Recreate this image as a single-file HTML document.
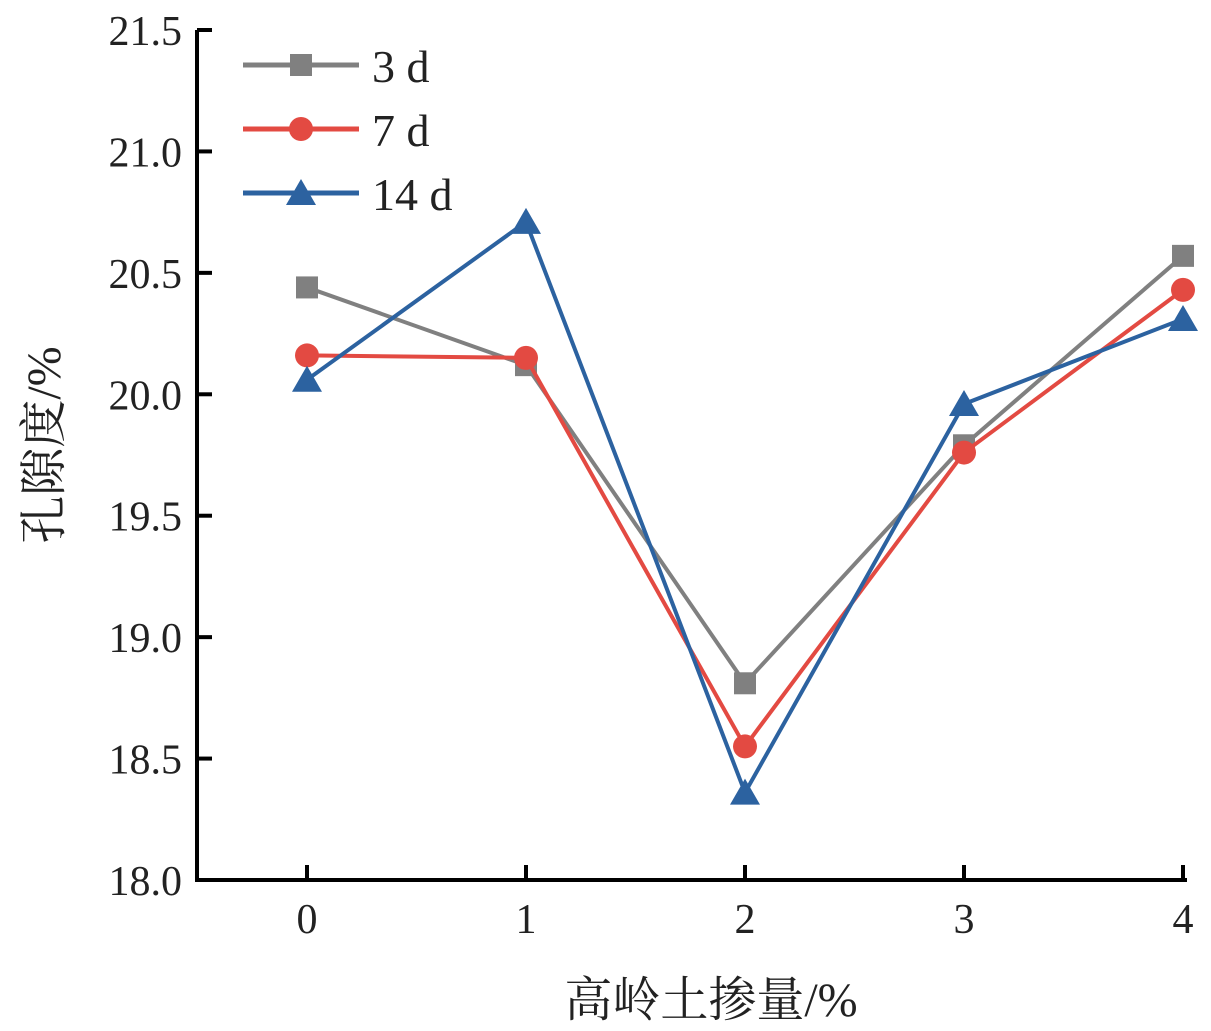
<!DOCTYPE html>
<html><head><meta charset="utf-8"><style>body{margin:0;background:#fff}svg{display:block}</style></head>
<body>
<svg id="chart" width="1211" height="1031" xmlns="http://www.w3.org/2000/svg" font-family="'Liberation Serif','Noto Serif CJK SC',serif">
</svg>
<script>
const categories = [0, 1, 2, 3, 4];
const series3d = [20.44, 20.12, 18.81, 19.79, 20.57];
const series7d = [20.16, 20.15, 18.55, 19.76, 20.43];
const series14d = [20.06, 20.71, 18.36, 19.96, 20.31];
const yTicks = [18.0, 18.5, 19.0, 19.5, 20.0, 20.5, 21.0, 21.5];
const seriesNames = ['3 d', '7 d', '14 d'];

const NS = 'http://www.w3.org/2000/svg';
const svg = document.getElementById('chart');
const X0 = 197, YB = 880, YT = 30;
const xScale = v => 307 + v * 219;
const yScale = v => YB - (v - 18) / 3.5 * (YB - YT);
function mk(tag, attrs, parent) {
  const e = document.createElementNS(NS, tag);
  for (const k in attrs) e.setAttribute(k, attrs[k]);
  (parent || svg).appendChild(e);
  return e;
}
let ax = mk('path', {d: `M${X0} ${YT} V${YB} H1187`, stroke: '#000', 'stroke-width': 4, fill: 'none'});


yTicks.forEach(t => {
  const y = yScale(t);
  const tk = mk('line', {x1: X0, x2: X0 + 15, y1: y, y2: y, stroke: '#000', 'stroke-width': 4});
  
  
  const tx = mk('text', {x: 182, y: y + 15, 'text-anchor': 'end', 'font-size': 42, fill: '#222'});
  tx.textContent = t.toFixed(1);
  
  
});
categories.forEach(c => {
  const x = xScale(c);
  const tk = mk('line', {x1: x, x2: x, y1: YB, y2: YB - 15, stroke: '#000', 'stroke-width': 4});
  
  
  const tx = mk('text', {x: x, y: 933, 'text-anchor': 'middle', 'font-size': 42, fill: '#222'});
  tx.textContent = c;
  
  
});
let xt = mk('text', {x: 711, y: 1016, 'text-anchor': 'middle', 'font-size': 48, fill: '#222'});
xt.textContent = '高岭土掺量/%';


let yt = mk('text', {x: 0, y: 0, 'text-anchor': 'middle', 'font-size': 48, fill: '#222', transform: 'translate(60,445) rotate(-90)'});
yt.textContent = '孔隙度/%';



function marker(kind, x, y, color, g) {
  if (kind === 0) return mk('rect', {x: x - 11, y: y - 11, width: 22, height: 22, fill: color}, g);
  if (kind === 1) return mk('circle', {cx: x, cy: y, r: 12, fill: color}, g);
  return mk('polygon', {points: `${x},${y - 14} ${x - 15},${y + 12} ${x + 15},${y + 12}`, fill: color}, g);
}
const colors = ['#808080', '#e34a42', '#2c62a0'];
[series3d, series7d, series14d].forEach((vals, i) => {
  const g = mk('g', {});
  
  
  const ln = mk('polyline', {points: vals.map((v, j) => xScale(categories[j]) + ',' + yScale(v)).join(' '), fill: 'none', stroke: colors[i], 'stroke-width': 4}, g);
  
  
  vals.forEach((v, j) => {
    const m = marker(i, xScale(categories[j]), yScale(v), colors[i], g);
    
    
  });
  const ly = 65 + i * 64;
  const lg = mk('g', {});
  
  
  mk('line', {x1: 243, x2: 359, y1: ly, y2: ly, stroke: colors[i], 'stroke-width': 5}, lg);
  marker(i, 301, ly, colors[i], lg);
  const t = mk('text', {x: 372, y: ly + 17, 'font-size': 46, fill: '#222'}, lg);
  t.textContent = seriesNames[i];
});
</script>
</body></html>
